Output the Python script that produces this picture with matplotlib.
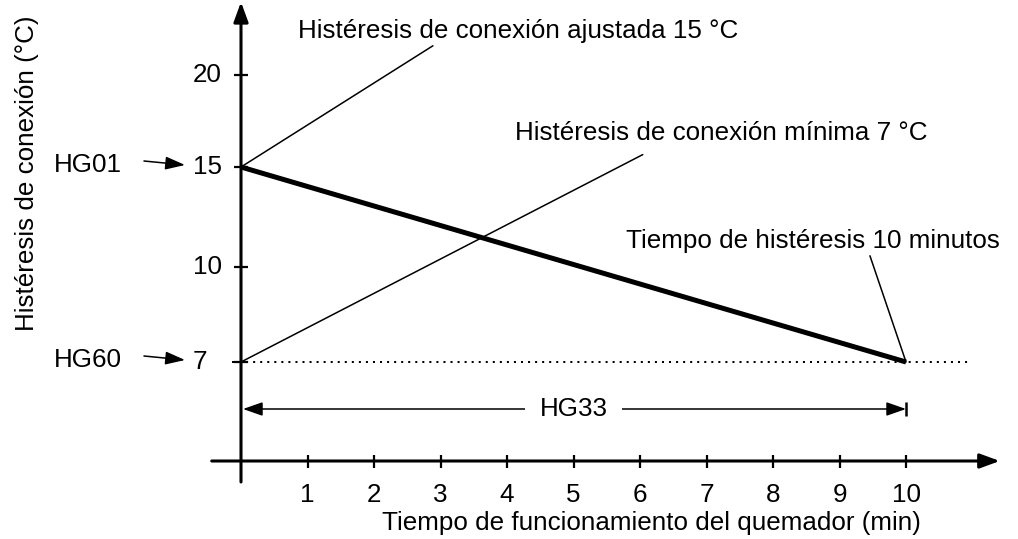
import numpy as np
import matplotlib
matplotlib.use("Agg")
import matplotlib.pyplot as plt

plt.rcParams['font.family'] = ['Liberation Sans', 'DejaVu Sans']
plt.rcParams['font.size'] = 18.7

# Values shown on the chart
X_TICKS = [1, 2, 3, 4, 5, 6, 7, 8, 9, 10]
Y_TICKS = [7, 10, 15, 20]
TIME = [0, 10]          # min
HYST = [15, 7]          # degC, hysteresis ramp from HG01 down to HG60
HG01 = 15
HG60 = 7
HG33 = 10               # min

LABEL_AJUSTADA = 'Histéresis de conexión ajustada 15 °C'
LABEL_MINIMA = 'Histéresis de conexión mínima 7 °C'
LABEL_TIEMPO = 'Tiempo de histéresis 10 minutos'

# Schematic vertical axis: rows where each labelled value sits (not to scale)
Y_TICK_ROWS = [0.99, 1.94, 2.94, 3.86]


def row(v):
    return np.interp(v, Y_TICKS, Y_TICK_ROWS)


fig = plt.figure(figsize=(10.18, 5.39), dpi=100)
ax = fig.add_axes([0, 0, 1, 1])
ax.set_xlim(-3.624, 11.684)
ax.set_ylim(-0.78, 4.61)
ax.axis('off')

k = 'black'
head = dict(shrinkA=0, shrinkB=0, mutation_scale=1, color=k)

# axes with arrow heads
ax.annotate('', xy=(0, 4.59), xytext=(0, -0.21),
            arrowprops=dict(arrowstyle='-|>,head_length=12,head_width=4.4', lw=2.2, **head))
ax.annotate('', xy=(11.41, 0), xytext=(-0.44, 0),
            arrowprops=dict(arrowstyle='-|>,head_length=12,head_width=4.4', lw=2.2, **head))

# tick marks and labels
ax.vlines(X_TICKS, -0.065, 0.065, color=k, lw=1.6)
for x in X_TICKS:
    ax.text(x, -0.34, str(x), ha='center', va='center')
ax.hlines(row(Y_TICKS), -0.105, 0.105, color=k, lw=1.6)
for v in Y_TICKS:
    ax.text(-0.722, row(v), str(v), ha='left', va='center')

ax.text(-3.22, 2.88, 'Histéresis de conexión (°C)', rotation=90,
        ha='center', va='center')
ax.text(6.17, -0.62, 'Tiempo de funcionamiento del quemador (min)',
        ha='center', va='center')

# minimum hysteresis reference level
ax.plot([-0.135, 10.99], [row(HG60)] * 2, color=k, lw=1.45,
        linestyle=(0, (1, 2.5)))

# hysteresis ramp
ax.plot(TIME, row(HYST), color=k, lw=3.6, solid_capstyle='butt')

# leader lines to the descriptions
ax.annotate(LABEL_AJUSTADA, xy=(0, row(HG01)), xytext=(4.17, 4.30),
            ha='center', va='center',
            arrowprops=dict(arrowstyle='-', lw=1.1, color=k, shrinkA=0, shrinkB=0,
                            relpos=(0.316, 0.0)))
ax.annotate(LABEL_MINIMA, xy=(0, row(HG60)), xytext=(7.22, 3.28),
            ha='center', va='center',
            arrowprops=dict(arrowstyle='-', lw=1.1, color=k, shrinkA=0, shrinkB=0,
                            relpos=(0.31, -0.4)))
ax.annotate(LABEL_TIEMPO, xy=(TIME[-1], row(HYST[-1])), xytext=(8.60, 2.20),
            ha='center', va='center',
            arrowprops=dict(arrowstyle='-', lw=1.1, color=k, shrinkA=0, shrinkB=0,
                            relpos=(0.65, 0.0)))

# parameter arrows at the vertical axis
for name, v in (('HG01', HG01), ('HG60', HG60)):
    r = row(v)
    ax.text(-1.79, r + 0.02, name, ha='right', va='center')
    ax.annotate('', xy=(-0.842, r + 0.02), xytext=(-1.459, r + 0.06),
                arrowprops=dict(arrowstyle='-|>,head_length=12,head_width=4', lw=1.1, **head))

# HG33 span
ax.annotate('', xy=(HG33, 0.52), xytext=(0.03, 0.52),
            arrowprops=dict(arrowstyle='<|-|>,head_length=12,head_width=4.2', lw=1.1, **head))
ax.vlines(HG33, 0.45, 0.59, color=k, lw=1.8)
ax.text(HG33 / 2, 0.52, 'HG33', ha='center', va='center',
        bbox=dict(boxstyle='square,pad=0.55', fc='white', ec='none'))

fig.savefig('out.png', dpi=100)
